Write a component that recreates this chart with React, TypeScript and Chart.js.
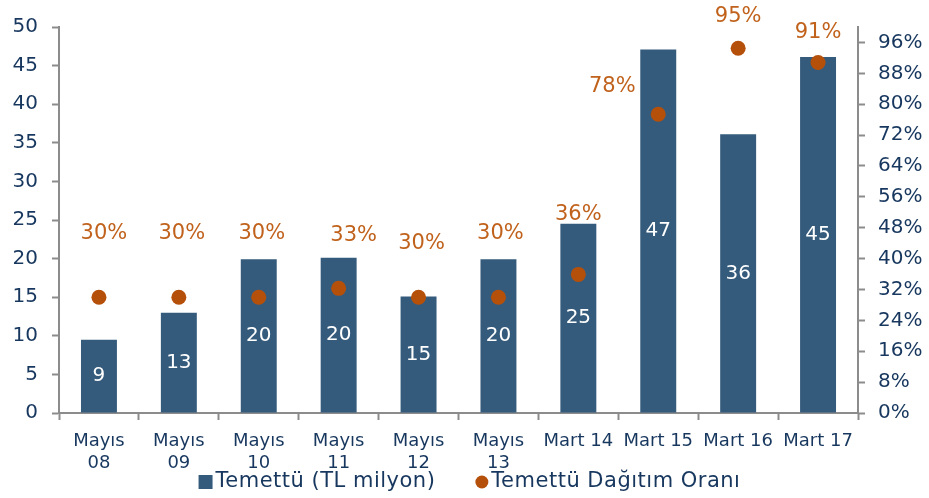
import React, { useEffect, useRef } from "react";
import { Chart, registerables } from "chart.js";

Chart.register(...registerables);

const categories: (string | string[])[] = [
  ["Mayıs", "08"],
  ["Mayıs", "09"],
  ["Mayıs", "10"],
  ["Mayıs", "11"],
  ["Mayıs", "12"],
  ["Mayıs", "13"],
  "Mart 14",
  "Mart 15",
  "Mart 16",
  "Mart 17",
];
const dividendValues = [9.5, 13, 19.9, 20.1, 15.1, 19.9, 24.5, 47.1, 36.1, 46.1];
const dividendLabels = ["9", "13", "20", "20", "15", "20", "25", "47", "36", "45"];
const payoutRatios = [30, 30, 30, 32.3, 30, 30, 35.9, 77.4, 94.5, 90.8];
const payoutLabels = ["30%", "30%", "30%", "33%", "30%", "30%", "36%", "78%", "95%", "91%"];
const leftTicks = [0, 5, 10, 15, 20, 25, 30, 35, 40, 45, 50];
const rightTicks = [0, 8, 16, 24, 32, 40, 48, 56, 64, 72, 80, 88, 96];
const seriesNames = ["Temettü (TL milyon)", "Temettü Dağıtım Oranı"];

const FONT = "'DejaVu Sans', Verdana, sans-serif";
const TEXT = "#17375e";
const BAR = "#355b7c";
const DOT = "#b5500b";
const PCT = "#c0621c";
const AXIS = "#8c8c8c";

// label placement relative to each point (dx, dy)
const pctOffsets: [number, number][] = [
  [5, -64], [3, -64], [3, -64], [15, -53], [3, -54], [2, -64], [0, -60], [-46, -28], [0, -32], [0, -30],
];

const labelPlugin = {
  id: "labels",
  afterDatasetsDraw(chart: any) {
    const ctx = chart.ctx;
    ctx.save();
    ctx.textAlign = "center";
    ctx.textBaseline = "middle";
    ctx.font = `20px ${FONT}`;
    ctx.fillStyle = "#ffffff";
    const barMeta = chart.getDatasetMeta(0);
    barMeta.data.forEach((el: any, i: number) => {
      ctx.fillText(dividendLabels[i], el.x, (el.y + el.base) / 2);
    });
    ctx.fillStyle = PCT;
    ctx.font = `21px ${FONT}`;
    const ptMeta = chart.getDatasetMeta(1);
    ptMeta.data.forEach((el: any, i: number) => {
      const [dx, dy] = pctOffsets[i];
      ctx.fillText(payoutLabels[i], el.x + dx, el.y + dy);
    });
    ctx.restore();
  },
  afterDraw(chart: any) {
    const ctx = chart.ctx;
    ctx.save();
    ctx.font = `21px ${FONT}`;
    (ctx as any).letterSpacing = "0.5px";
    ctx.textBaseline = "middle";
    ctx.textAlign = "left";
    const w1 = ctx.measureText(seriesNames[0]).width;
    const w2 = ctx.measureText(seriesNames[1]).width;
    const sq = 14, gapBox = 3, gapItems = 40, dot = 13;
    const total = sq + gapBox + w1 + gapItems + dot + gapBox + w2;
    let x = chart.width / 2 + 5 - total / 2;
    const y = 482;
    ctx.fillStyle = BAR;
    ctx.fillRect(x, y - sq / 2, sq, sq);
    x += sq + gapBox;
    ctx.fillStyle = TEXT;
    ctx.fillText(seriesNames[0], x, y);
    x += w1 + gapItems;
    ctx.fillStyle = DOT;
    ctx.beginPath();
    ctx.arc(x + dot / 2, y, dot / 2, 0, Math.PI * 2);
    ctx.fill();
    x += dot + gapBox;
    ctx.fillStyle = TEXT;
    ctx.fillText(seriesNames[1], x, y);
    ctx.restore();
  },
};

export default function App() {
  const ref = useRef<HTMLCanvasElement>(null);
  useEffect(() => {
    if (!ref.current) return;
    const chart = new Chart(ref.current, {
      type: "bar",
      data: {
        labels: categories as any,
        datasets: [
          {
            type: "bar",
            label: seriesNames[0],
            data: dividendValues,
            backgroundColor: BAR,
            barPercentage: 0.45,
            categoryPercentage: 1,
            yAxisID: "y",
            order: 2,
          },
          {
            type: "line",
            label: seriesNames[1],
            data: payoutRatios,
            showLine: false,
            pointRadius: 7.5,
            pointBackgroundColor: DOT,
            pointBorderWidth: 0,
            backgroundColor: DOT,
            borderColor: DOT,
            yAxisID: "y1",
            order: 1,
          } as any,
        ],
      },
      options: {
        responsive: false,
        animation: false,
        layout: { padding: { top: 27, left: 0, right: 0, bottom: 0 } },
        plugins: { legend: { display: false }, tooltip: { enabled: false } },
        scales: {
          x: {
            offset: true,
            grid: {
              offset: true,
              drawOnChartArea: false,
              tickLength: 7,
              tickWidth: 2,
              tickColor: AXIS,
            },
            border: { color: AXIS, width: 2 },
            ticks: { color: TEXT, font: { family: FONT, size: 18 }, padding: 11, maxRotation: 0, autoSkip: false },
            afterFit(scale: any) {
              scale.height = 85;
            },
          },
          y: {
            position: "left",
            min: 0,
            max: 50,
            afterBuildTicks(scale: any) {
              scale.ticks = leftTicks.map((v) => ({ value: v }));
            },
            grid: { drawOnChartArea: false, tickLength: 7, tickWidth: 2, tickColor: AXIS },
            border: { color: AXIS, width: 2 },
            ticks: { color: TEXT, font: { family: FONT, size: 20 }, padding: 14 },
            afterFit(scale: any) {
              scale.width = 59;
            },
          },
          y1: {
            position: "right",
            min: 0,
            max: 100,
            afterBuildTicks(scale: any) {
              scale.ticks = rightTicks.map((v) => ({ value: v }));
            },
            grid: { drawOnChartArea: false, tickLength: 7, tickWidth: 2, tickColor: AXIS },
            border: { color: AXIS, width: 2 },
            ticks: {
              color: TEXT,
              font: { family: FONT, size: 20 },
              padding: 13,
              callback: (v: any) => `${v}%`,
            },
            afterFit(scale: any) {
              scale.width = 71;
            },
          },
        },
      },
      plugins: [labelPlugin],
    });
    return () => chart.destroy();
  }, []);
  return (
    <div style={{ position: "absolute", left: 0, top: 0, width: 929, height: 498 }}>
      <canvas ref={ref} width={929} height={498} style={{ display: "block" }} />
    </div>
  );
}
